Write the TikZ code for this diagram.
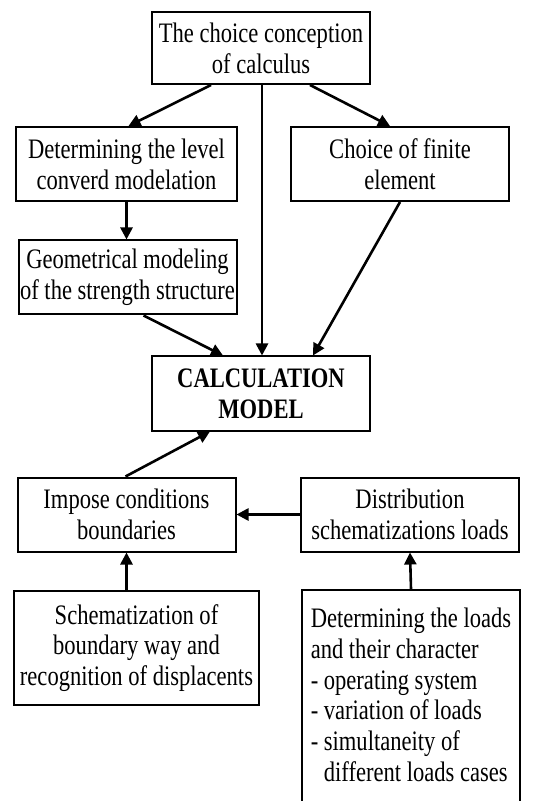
\documentclass[tikz,border=0pt]{standalone}
\usepackage{fontspec}
\setmainfont{Liberation Serif}[FakeStretch=0.8]
\usepackage{tikz}
\usetikzlibrary{calc,arrows.meta}
\tikzset{
  box/.style={draw=black, line width=1pt, align=center, inner xsep=0pt, inner ysep=0pt,
    font=\fontsize{14.1pt}{15.4pt}\selectfont},
  arr/.style={draw=black, line width=1.3pt, -{Triangle[length=6pt,width=6pt]}},
}
\begin{document}
\begin{tikzpicture}[x=0.5pt,y=-0.5pt]
  \def\W{109pt}
  \def\H{37pt}
  \useasboundingbox (0,0) rectangle (537,801);
  \clip (0,0) rectangle (537,801);
  \node[box, minimum width=\W, minimum height=36pt] (top) at (261,48)
    {The choice conception\\of calculus};
  \node[box, minimum width=110.5pt, minimum height=\H] (det) at (126.5,164)
    {Determining the level\\converd modelation};
  \node[box, minimum width=\W, minimum height=\H] (fin) at (400,164)
    {Choice of finite\\element};
  \node[box, minimum width=\W, minimum height=\H] (geo) at (127.5,277.5)
    {Geometrical modeling\\of the strength structure};
  \node[box, minimum width=\W, minimum height=\H] (calc) at (261,393.5)
    {\bfseries CALCULATION\\\bfseries MODEL};
  \node[box, minimum width=\W, minimum height=\H] (imp) at (126.5,514.5)
    {Impose conditions\\boundaries};
  \node[box, minimum width=\W, minimum height=\H] (dist) at (410,514.5)
    {Distribution\\schematizations loads};
  \node[box, minimum width=122.5pt, minimum height=57pt] (schem) at (136.5,648)
    {Schematization of\\boundary way and\\recognition of displacents};
  \node[box, anchor=north west, align=left, minimum width=\W,
    inner ysep=9pt, text depth=95pt] (loads) at (301,589)
    {Determining the loads\\and their character\\- operating system\\- variation of loads\\
     - simultaneity of\\\phantom{- }different loads cases};
  % top part
  \draw[arr] ([xshift=-25pt]top.south) -- ([xshift=1pt]det.north);
  \draw[arr] ([xshift=24.5pt]top.south) -- ([xshift=-5pt]fin.north);
  \draw[arr] ([xshift=0.5pt]top.south) -- ([xshift=0.5pt]calc.north);
  \draw[arr] (det.south) -- (det.south |- geo.north);
  \draw[arr] (fin.south) -- ([xshift=26pt]calc.north);
  \draw[arr] ([xshift=8pt]geo.south) -- ([xshift=-19pt]calc.north);
  % bottom part
  \draw[arr] ([xshift=-0.5pt]imp.north) -- ([xshift=-25.5pt]calc.south);
  \draw[arr] (dist.west) -- (imp.east);
  \draw[arr] (imp.south |- schem.north) -- (imp.south);
  \draw[arr] (loads.north) -- (dist.south);
\end{tikzpicture}
\end{document}
